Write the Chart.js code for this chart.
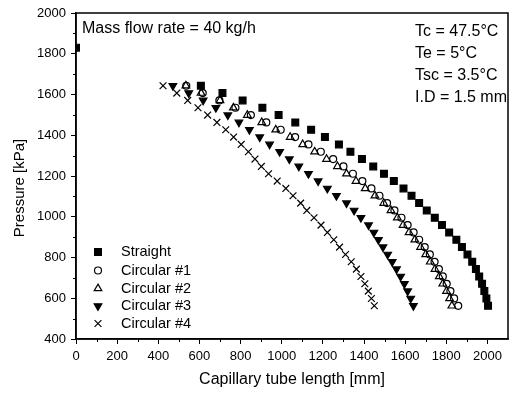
<!DOCTYPE html>
<html>
<head>
<meta charset="utf-8">
<script src="https://cdn.jsdelivr.net/npm/chart.js@4.4.1/dist/chart.umd.min.js"></script>
<style>
  html, body { margin: 0; padding: 0; background: #fff; }
  #wrap { width: 514px; height: 393px; }
</style>
</head>
<body>
<div id="wrap"><canvas id="chart" width="514" height="393"></canvas></div>
<script>
// ------------------------------------------------------------
// Data (x in mm, pressure in kPa)
// ------------------------------------------------------------
const pressure = [1643, 1607, 1571, 1535, 1499, 1463, 1427, 1391, 1355, 1319, 1283, 1247, 1211, 1175, 1139,
                  1103, 1067, 1031, 995, 959, 923, 887, 851, 815, 779, 743, 707, 671, 635, 599, 563];

const straightP = [1830].concat(pressure);
const straightX = [0, 607, 712, 810, 906, 985, 1066, 1143, 1210, 1278, 1334, 1390, 1445, 1497, 1545, 1592,
                   1631, 1668, 1705, 1744, 1779, 1814, 1849, 1876, 1903, 1926, 1944, 1960, 1974, 1985, 1995, 2003];

const circular1X = [536, 616, 697, 775, 850, 925, 995, 1065, 1130, 1190, 1250, 1300, 1346, 1392, 1436,
                    1475, 1512, 1548, 1582, 1612, 1641, 1668, 1695, 1720, 1743, 1764, 1783, 1802, 1820, 1838, 1858];

const circular2X = [534, 608, 700, 765, 833, 903, 971, 1041, 1102, 1160, 1218, 1271, 1315, 1361, 1406,
                    1453, 1496, 1531, 1562, 1590, 1619, 1647, 1675, 1700, 1722, 1745, 1766, 1783, 1801, 1816, 1827];

const circular3X = [471, 548, 618, 680, 738, 792, 843, 893, 941, 990, 1037, 1083, 1130, 1177, 1222,
                    1266, 1315, 1352, 1385, 1422, 1448, 1470, 1492, 1515, 1537, 1558, 1578, 1596, 1612, 1627, 1640];

const circular4X = [423, 490, 543, 593, 640, 685, 728, 766, 803, 838, 870, 901, 936, 978, 1020,
                    1055, 1092, 1122, 1157, 1191, 1222, 1253, 1281, 1310, 1338, 1363, 1385, 1404, 1421, 1436, 1450];

const seriesNames = ['Straight', 'Circular #1', 'Circular #2', 'Circular #3', 'Circular #4'];

const xTicks = { min: 0, max: 2100, step: 200 };
const yTicks = { min: 400, max: 2000, step: 200 };

const noteLeft = 'Mass flow rate = 40 kg/h';
const noteRight = ['Tc = 47.5\u00B0C', 'Te = 5\u00B0C', 'Tsc = 3.5\u00B0C', 'I.D = 1.5 mm'];

// ------------------------------------------------------------
// Helpers
// ------------------------------------------------------------
const FONT = 'Liberation Sans, Arial, Helvetica, sans-serif';

function toPoints(xs, ys) {
    return xs.map(function(x, i) { return { x: x, y: ys[i] }; });
}

const MARKERS = [
    { pointStyle: 'rect',     radius: 4.8, rotation: 0,   fill: true  },
    { pointStyle: 'circle',   radius: 3.5, rotation: 0,   fill: false },
    { pointStyle: 'triangle', radius: 4.4, rotation: 0,   fill: false },
    { pointStyle: 'triangle', radius: 4.4, rotation: 180, fill: true  },
    { pointStyle: 'crossRot', radius: 4.8, rotation: 0,   fill: false }
];

function makeDataset(label, points, m) {
    return {
        label: label,
        data: points,
        showLine: false,
        pointStyle: m.pointStyle,
        pointRadius: m.radius,
        pointHoverRadius: m.radius,
        pointRotation: m.rotation,
        pointBorderWidth: 1.2,
        pointBorderColor: '#000',
        pointBackgroundColor: m.fill ? '#000' : 'rgba(0,0,0,0)'
    };
}

const datasets = [
    makeDataset(seriesNames[0], toPoints(straightX, straightP), MARKERS[0]),
    makeDataset(seriesNames[1], toPoints(circular1X, pressure), MARKERS[1]),
    makeDataset(seriesNames[2], toPoints(circular2X, pressure), MARKERS[2]),
    makeDataset(seriesNames[3], toPoints(circular3X, pressure), MARKERS[3]),
    makeDataset(seriesNames[4], toPoints(circular4X, pressure), MARKERS[4])
];

// frame, minor ticks, y title, legend and notes
const decorations = {
    id: 'decorations',
    afterDraw: function(chart) {
        const ctx = chart.ctx;
        const a = chart.chartArea;
        const xs = chart.scales.x;
        const ys = chart.scales.y;
        ctx.save();

        // box around plot
        ctx.strokeStyle = '#000';
        ctx.lineWidth = 1.5;
        ctx.strokeRect(a.left, a.top, a.right - a.left, a.bottom - a.top);

        // minor ticks
        ctx.lineWidth = 1;
        ctx.beginPath();
        for (let v = 100; v < xTicks.max; v += 200) {
            const px = Math.round(xs.getPixelForValue(v)) + 0.5;
            ctx.moveTo(px, a.bottom);
            ctx.lineTo(px, a.bottom + 3);
        }
        for (let v = 500; v < yTicks.max; v += 200) {
            const py = Math.round(ys.getPixelForValue(v)) + 0.5;
            ctx.moveTo(a.left, py);
            ctx.lineTo(a.left - 3, py);
        }
        ctx.stroke();

        ctx.fillStyle = '#000';
        ctx.textBaseline = 'middle';

        // y axis title
        ctx.save();
        ctx.translate(20, 188);
        ctx.rotate(-Math.PI / 2);
        ctx.textAlign = 'center';
        ctx.font = '15px ' + FONT;
        ctx.fillText('Pressure [kPa]', 0, 0);
        ctx.restore();

        // legend
        ctx.font = '14.5px ' + FONT;
        ctx.textAlign = 'left';
        const rows = [252, 270.5, 288.5, 306, 323.5];
        seriesNames.forEach(function(name, i) {
            const m = MARKERS[i];
            ctx.strokeStyle = '#000';
            ctx.fillStyle = m.fill ? '#000' : 'rgba(0,0,0,0)';
            ctx.lineWidth = 1.2;
            Chart.helpers.drawPoint(ctx, {
                pointStyle: m.pointStyle, radius: m.radius, rotation: m.rotation, borderWidth: 1.2
            }, 98, rows[i]);
            ctx.fillStyle = '#000';
            ctx.fillText(name, 121, rows[i]);
        });

        // notes
        ctx.font = '16px ' + FONT;
        ctx.fillText(noteLeft, 82, 29);
        const noteRows = [32, 54, 76, 98];
        noteRight.forEach(function(t, i) {
            ctx.fillText(t, 415, noteRows[i]);
        });

        ctx.restore();
    }
};

new Chart(document.getElementById('chart'), {
    type: 'scatter',
    data: { datasets: datasets },
    options: {
        responsive: false,
        animation: false,
        events: [],
        layout: { padding: { top: 13, right: 2, left: 0, bottom: 0 } },
        plugins: {
            legend: { display: false },
            tooltip: { enabled: false }
        },
        scales: {
            x: {
                type: 'linear',
                min: xTicks.min,
                max: xTicks.max,
                afterFit: function(s) { s.height = 54; },
                ticks: {
                    stepSize: xTicks.step,
                    includeBounds: false,
                    maxRotation: 0,
                    color: '#000',
                    padding: 5,
                    font: { family: FONT, size: 13 },
                    callback: function(v) { return String(v); }
                },
                grid: { drawOnChartArea: false, drawTicks: true, tickLength: 5, tickColor: '#000', tickWidth: 1 },
                border: { display: true, color: '#000', width: 1.5 },
                title: {
                    display: true,
                    text: 'Capillary tube length [mm]',
                    color: '#000',
                    font: { family: FONT, size: 16 },
                    padding: { top: 0, bottom: 4 }
                }
            },
            y: {
                type: 'linear',
                min: yTicks.min,
                max: yTicks.max,
                afterFit: function(s) { s.width = 76; },
                ticks: {
                    stepSize: yTicks.step,
                    color: '#000',
                    padding: 5,
                    font: { family: FONT, size: 13 },
                    callback: function(v) { return String(v); }
                },
                grid: { drawOnChartArea: false, drawTicks: true, tickLength: 5, tickColor: '#000', tickWidth: 1 },
                border: { display: true, color: '#000', width: 1.5 }
            }
        }
    },
    plugins: [decorations]
});
</script>
</body>
</html>
